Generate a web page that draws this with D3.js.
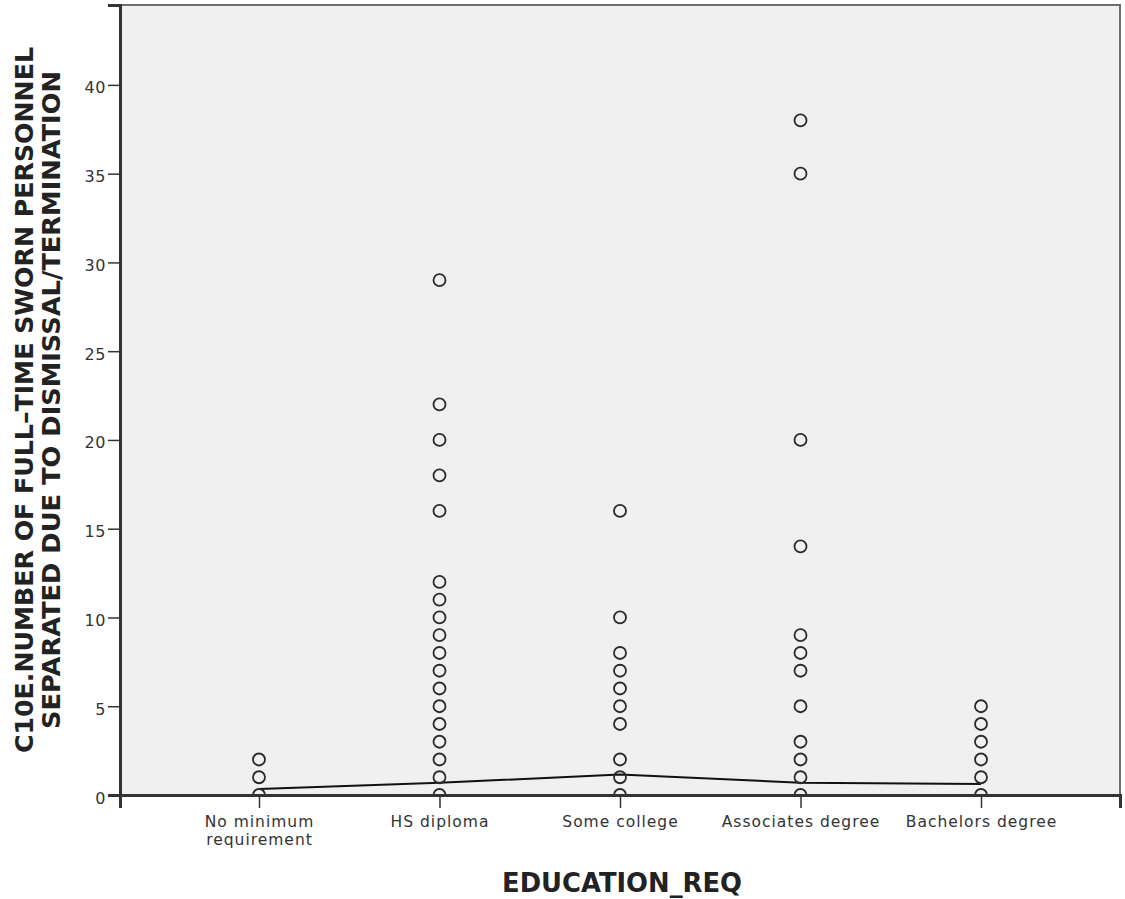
<!DOCTYPE html>
<html><head><meta charset="utf-8">
<script src="https://cdn.jsdelivr.net/npm/d3@7"></script>
<style>body{margin:0;background:#fff}svg{display:block}</style>
</head><body>
<script>
const categories = ["No minimum requirement","HS diploma","Some college","Associates degree","Bachelors degree"];
const noMinValues = [0,1,2];
const hsValues = [0,1,2,3,4,5,6,7,8,9,10,11,12,16,18,20,22,29];
const someCollegeValues = [0,1,2,4,5,6,7,8,10,16];
const associatesValues = [0,1,2,3,5,7,8,9,14,20,35,38];
const bachelorsValues = [0,1,2,3,4,5];
const meanValues = [0.34,0.69,1.15,0.69,0.62];
const yTicks = [0,5,10,15,20,25,30,35,40];

const W=1125,H=899;
const m={left:120,top:5,right:1120,bottom:795};
const svg=d3.select("body").append("svg").attr("width",W).attr("height",H);
const x=d3.scalePoint().domain(categories).range([m.left,m.right]).padding(0.77);
const y=d3.scaleLinear().domain([0,44.5]).range([m.bottom,m.top]);

svg.append("rect").attr("x",m.left).attr("y",m.top).attr("width",m.right-m.left).attr("height",m.bottom-m.top)
  .attr("fill","#f0f0f0").attr("stroke","#6e6e6e").attr("stroke-width",2);
svg.append("clipPath").attr("id","clip").append("rect").attr("x",m.left).attr("y",m.top).attr("width",m.right-m.left).attr("height",m.bottom-m.top);

const series=[noMinValues,hsValues,someCollegeValues,associatesValues,bachelorsValues];
const pts=[];
series.forEach((arr,i)=>arr.forEach(v=>pts.push({c:categories[i],v})));
const g=svg.append("g").attr("clip-path","url(#clip)");
g.append("path").datum(meanValues.map((v,i)=>[x(categories[i]),y(v)]))
  .attr("d",d3.line()).attr("fill","none").attr("stroke","#111").attr("stroke-width",2);
g.selectAll("circle").data(pts).join("circle")
  .attr("cx",d=>x(d.c)).attr("cy",d=>y(d.v)).attr("r",6)
  .attr("fill","none").attr("stroke","#2a2a2a").attr("stroke-width",1.8);

const FONT="DejaVu Sans";
const ya=svg.append("g").attr("transform",`translate(${m.left},0)`)
  .call(d3.axisLeft(y).tickValues(yTicks).tickSize(12).tickPadding(2));
ya.select(".domain").attr("stroke","#333").attr("stroke-width",3);
ya.selectAll(".tick line").attr("stroke","#333").attr("stroke-width",1.5);
ya.selectAll("text").attr("font-family",FONT).attr("font-size",16).attr("letter-spacing",0.6)
  .attr("dy","0.5em").attr("fill","#333");

const xa=svg.append("g").attr("transform",`translate(0,${m.bottom})`)
  .call(d3.axisBottom(x).tickSize(13).tickFormat(""));
xa.select(".domain").attr("stroke","#333").attr("stroke-width",3);
xa.selectAll(".tick line").attr("stroke","#333").attr("stroke-width",1.5);
const labelLines={"No minimum requirement":["No minimum","requirement"]};
xa.selectAll(".tick").each(function(d){
  const lines=labelLines[d]||[d];
  const t=d3.select(this).append("text").attr("y",32).attr("text-anchor","middle")
    .attr("font-family",FONT).attr("font-size",15.5).attr("letter-spacing",1).attr("fill","#333");
  lines.forEach((l,i)=>t.append("tspan").attr("x",0).attr("dy",i?18:0).text(l));
});

svg.append("text").attr("x",622).attr("y",892).attr("text-anchor","middle")
  .attr("font-family",FONT).attr("font-weight","bold").attr("font-size",27).attr("fill","#222")
  .attr("textLength",240).attr("lengthAdjust","spacingAndGlyphs")
  .text("EDUCATION_REQ");
const yt=svg.append("g").attr("transform","translate(0,400) rotate(-90)");
yt.append("text").attr("x",0).attr("y",33).attr("text-anchor","middle")
  .attr("font-family",FONT).attr("font-weight","bold").attr("font-size",25).attr("fill","#222")
  .attr("textLength",706).attr("lengthAdjust","spacingAndGlyphs")
  .text("C10E.NUMBER OF FULL\u2013TIME SWORN PERSONNEL");
yt.append("text").attr("x",0).attr("y",60).attr("text-anchor","middle")
  .attr("font-family",FONT).attr("font-weight","bold").attr("font-size",25).attr("fill","#222")
  .attr("textLength",658).attr("lengthAdjust","spacingAndGlyphs")
  .text("SEPARATED DUE TO DISMISSAL/TERMINATION");
</script>
</body></html>
